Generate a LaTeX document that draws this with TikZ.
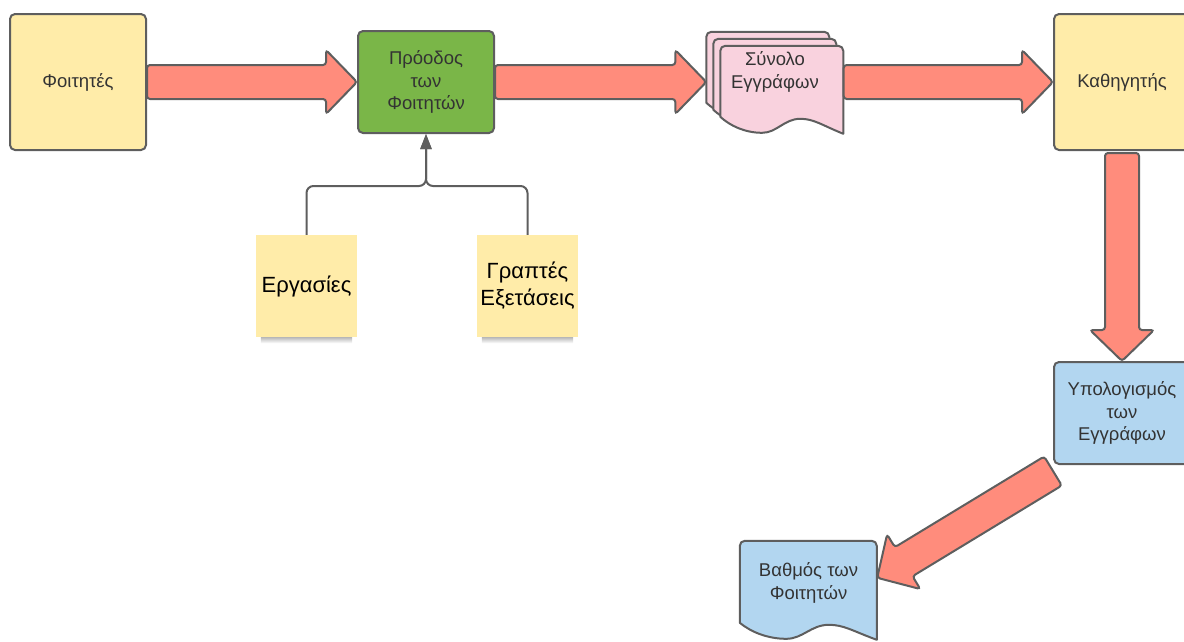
\documentclass[tikz,border=0pt]{standalone}
\usepackage{fontspec}
\setmainfont{Liberation Sans}
\usetikzlibrary{calc,arrows.meta,backgrounds}

\definecolor{boxline}{HTML}{5E5E5E}
\definecolor{txt}{HTML}{333333}
\definecolor{paleyellow}{HTML}{FFECA9}
\definecolor{leaf}{HTML}{7AB648}
\definecolor{blush}{HTML}{F9D2DE}
\definecolor{sky}{HTML}{B2D6F0}
\definecolor{salmon}{HTML}{FF8C7C}

\tikzset{
  box/.style={draw=boxline, line width=2pt, rounded corners=5pt, text=txt,
    align=center, font=\fontsize{18.5}{22.5}\selectfont, inner sep=0pt},
  doctext/.style={align=center, text=txt, font=\fontsize{18.5}{22.5}\selectfont, inner sep=0pt},
  page/.style={draw=boxline, line width=2pt, line join=round},
  sticky/.style={fill=paleyellow, align=center, text=black, inner sep=0pt,
    font=\fontsize{22}{27}\selectfont, minimum width=101pt, minimum height=102pt},
  stickyshade/.style={top color=black!32, bottom color=white},
  blockarr/.style={fill=salmon, draw=boxline, line width=2pt, rounded corners=3pt},
  feed/.style={draw=boxline, line width=2pt, rounded corners=7pt,
    -{Triangle[width=11pt,length=15pt]}},
}

% document outline: top-left (#1,#2), width #3, body height #4, wavy bottom
\newcommand\docpath[4]{%
  ({#1},{#2+#4}) [rounded corners=5pt] -- ({#1},{#2}) -- ({#1+#3},{#2})
  -- ({#1+#3},{#2+#4}) [sharp corners] -- ({#1+#3},{#2+#4+17})
  .. controls ({#1+0.82*#3},{#2+#4+8}) and ({#1+0.76*#3},{#2+#4+2}) .. ({#1+0.65*#3},{#2+#4+2})
  .. controls ({#1+0.52*#3},{#2+#4+2}) and ({#1+0.46*#3},{#2+#4+16}) .. ({#1+0.34*#3},{#2+#4+16})
  .. controls ({#1+0.2*#3},{#2+#4+16}) and ({#1+0.08*#3},{#2+#4+9}) .. ({#1},{#2+#4}) -- cycle}

% wide block arrow from #1 (tail) to #2 (tip)
\newcommand\blockarrow[2]{%
  \coordinate (bh) at ($(#2)!31pt!(#1)$);
  \draw[blockarr] ($(#1)!17pt!90:(#2)$) -- ($(bh)!17pt!-90:(#1)$)
    -- ($(bh)!32pt!-90:(#1)$) -- (#2) -- ($(bh)!32pt!90:(#1)$)
    -- ($(bh)!17pt!90:(#1)$) -- ($(#1)!17pt!-90:(#2)$) -- cycle;}

\begin{document}
\begin{tikzpicture}[x=1pt, y=-1pt]
\useasboundingbox (0,0) rectangle (1184,641);
\clip (0,0) rectangle (1184,641);

% boxes
\node[box, fill=paleyellow, minimum width=136pt, minimum height=136pt] (stud) at (78,82) {Φοιτητές};
\node[box, fill=leaf, minimum width=136pt, minimum height=102pt] (prog) at (426,82) {Πρόοδος\\των\\Φοιτητών};
\node[doctext, minimum width=137pt, minimum height=78pt] (set) at (775,72) {Σύνολο\\Εγγράφων};
\node[box, fill=paleyellow, minimum width=136pt, minimum height=136pt] (prof) at (1122,82) {Καθηγητής};
\node[box, fill=sky, minimum width=136pt, minimum height=102pt] (comp) at (1122,413) {Υπολογισμός\\των\\Εγγράφων};
\node[doctext, minimum width=137pt, minimum height=84pt] (grade) at (808.5,583) {Βαθμός των\\Φοιτητών};

% sticky notes
\node[sticky] (work) at (306.5,286) {Εργασίες};
\node[sticky] (exam) at (527.5,286) {Γραπτές\\Εξετάσεις};

\begin{scope}[on background layer]
  % soft shadows under the sticky notes
  \shade[stickyshade] ($(work.south west)+(5,-1)$) rectangle ($(work.south east)+(-5,6)$);
  \shade[stickyshade] ($(exam.south west)+(5,-1)$) rectangle ($(exam.south east)+(-5,6)$);
  % document shapes behind their labels
  \begin{scope}[shift={(set.north west)}]
    \draw[page, fill=blush] \docpath{0}{-1}{123}{71};
    \draw[page, fill=blush] \docpath{7}{6}{123}{71};
    \draw[page, fill=blush] \docpath{14}{13}{123}{71};
  \end{scope}
  \begin{scope}[shift={(grade.north west)}]
    \draw[page, fill=sky] \docpath{0}{0}{137}{82};
  \end{scope}
\end{scope}

% inputs to the progress box
\coordinate (merge) at ($(prog.south)+(0,52)$);
\draw[feed] (work.north) |- (merge) -- (prog.south);
\draw[feed] (exam.north) |- (merge) -- (prog.south);

% block arrows
\coordinate (settip) at (set.west |- prog.east);
\coordinate (settail) at (set.east |- prof.west);
\coordinate (proftail) at ($(prof.south)+(0,2)$);
\coordinate (comptail) at ($(comp.south west)+(0,6)$);
\coordinate (gradetip) at ($(grade.north east)+(0,37)$);
\blockarrow{stud.east}{prog.west}
\blockarrow{prog.east}{settip}
\blockarrow{settail}{prof.west}
\blockarrow{proftail}{comp.north}
\blockarrow{comptail}{gradetip}
\end{tikzpicture}
\end{document}
